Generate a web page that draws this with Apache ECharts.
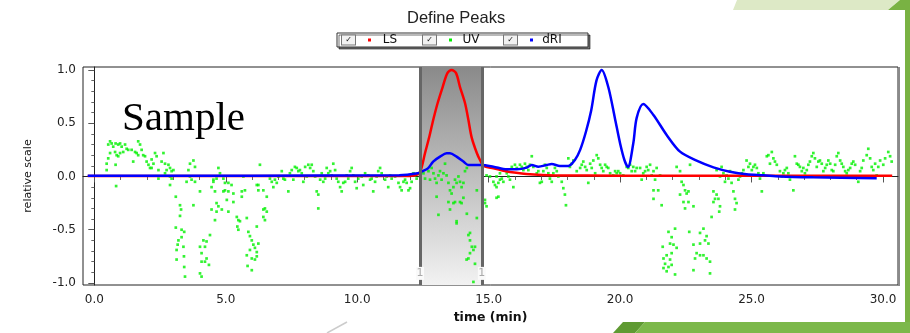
<!DOCTYPE html>
<html>
<head>
<meta charset="utf-8">
<title>Define Peaks</title>
<script src="https://cdn.jsdelivr.net/npm/echarts@6.0.0/dist/echarts.min.js"></script>
<style>
  html, body { margin: 0; padding: 0; background: #fff; }
  #chart { width: 910px; height: 333px; }
</style>
</head>
<body>
<div id="chart"></div>
<script>
// time (min) / relative scale
const lsPoints = [
  [-0.25, 0.005], [6, 0.005], [12.0, 0.005], [12.3, 0.02], [12.42, 0.06], [12.58, 0.22], [12.74, 0.37],
  [12.89, 0.53], [13.06, 0.69], [13.25, 0.84], [13.43, 0.97], [13.59, 1.0], [13.76, 0.97],
  [13.91, 0.84], [14.1, 0.69], [14.23, 0.53], [14.35, 0.37], [14.55, 0.22], [14.67, 0.155],
  [14.8, 0.1], [15.18, 0.076], [15.56, 0.054], [15.81, 0.042], [16.57, 0.02], [17.5, 0.01],
  [20, 0.008], [25, 0.008], [30.35, 0.008]
];

const driPoints = [
  [-0.25, 0.008], [6, 0.008], [11.6, 0.012], [12.3, 0.03], [12.45, 0.045], [12.69, 0.076],
  [12.89, 0.14], [13.15, 0.186], [13.4, 0.218], [13.53, 0.218], [13.78, 0.186], [14.04, 0.14],
  [14.23, 0.108], [14.5, 0.108], [14.74, 0.108], [15.18, 0.092], [15.69, 0.067], [16.07, 0.067],
  [16.45, 0.083], [16.64, 0.108], [16.89, 0.092], [17.21, 0.108], [17.4, 0.117], [17.71, 0.099],
  [18.03, 0.099], [18.28, 0.155], [18.48, 0.25], [18.7, 0.42], [18.9, 0.62], [19.1, 0.9],
  [19.3, 1.0], [19.55, 0.84], [19.8, 0.55], [20.0, 0.31], [20.17, 0.15], [20.3, 0.09],
  [20.5, 0.31], [20.63, 0.55], [20.88, 0.68], [21.26, 0.58], [21.77, 0.39], [22.28, 0.233],
  [22.91, 0.149], [23.55, 0.086], [24.18, 0.045], [24.81, 0.02], [25.45, 0.011], [26.08, 0.0],
  [27.35, -0.008], [29.76, -0.017]
];

const uvPoints = [
  [0.60,0.33],[0.66,0.31],[0.53,0.30],[0.72,0.28],[0.81,0.31],[0.91,0.30],[0.79,0.23],[0.60,0.22],
  [0.85,0.20],[0.53,0.17],[0.47,0.12],[0.81,0.11],[0.47,0.06],[0.83,-0.09],[0.98,0.31],[1.04,0.28],
  [1.17,0.30],[1.23,0.26],[1.29,0.25],[1.10,0.23],[0.98,0.22],[0.91,0.19],[1.42,0.25],[1.55,0.23],
  [1.67,0.33],[1.74,0.30],[1.61,0.22],[1.48,0.14],[1.80,0.25],[1.86,0.20],[1.67,0.20],[1.93,0.19],
  [1.99,0.14],[2.06,0.11],[2.12,0.08],[2.18,0.16],[2.31,0.22],[2.37,0.19],[2.25,0.12],[2.18,0.08],
  [2.44,0.06],[2.63,0.22],[2.56,0.14],[2.69,0.12],[2.82,0.11],[2.75,0.06],[2.88,0.08],[2.94,0.05],
  [3.01,0.06],[2.69,0.03],[2.88,0.00],[2.44,-0.02],[2.94,-0.02],[2.88,-0.08],
  [3.64,0.12],[3.77,0.15],[3.83,0.09],[3.58,0.06],[3.64,0.00],[3.70,-0.03],[3.83,-0.05],[4.02,-0.14],
  [3.51,-0.05],[3.77,-0.27],
  [3.10,-0.19],[3.26,-0.27],[3.30,-0.31],[3.26,-0.37],[3.10,-0.48],[3.32,-0.50],[3.20,-0.60],
  [3.42,-0.52],[3.32,-0.57],[3.39,-0.66],[3.17,-0.64],[3.13,-0.69],[3.13,-0.78],[3.41,-0.75],
  [3.42,-0.85],[3.45,-0.94],
  [4.15,-0.60],[4.27,-0.61],[4.02,-0.66],[4.21,-0.66],[4.40,-0.55],[4.08,-0.72],[4.27,-0.77],
  [4.08,-0.80],[4.21,-0.80],[4.36,-0.83],[4.02,-0.91],[4.08,-0.94],
  [4.72,0.08],[4.78,0.03],[4.53,-0.03],[4.65,-0.02],[4.91,-0.02],[4.46,-0.10],[4.59,-0.14],
  [4.53,-0.05],[4.97,-0.06],[5.10,-0.06],[5.22,-0.08],[4.97,-0.13],[5.10,-0.14],[4.91,-0.14],
  [4.65,-0.25],[4.72,-0.28],[4.85,-0.31],[4.65,-0.33],[4.46,-0.31],[5.04,-0.22],[5.10,-0.33],
  [4.59,-0.41],[5.29,-0.16],[5.61,-0.14],[5.73,-0.13],[5.67,0.00],[5.61,-0.19],[5.29,-0.24],
  [5.42,-0.38],[5.48,-0.41],[5.54,-0.42],[5.44,-0.47],[5.48,-0.50],[5.80,-0.39],[5.86,-0.52],
  [5.92,-0.56],[5.99,-0.60],[6.05,-0.64],[6.11,-0.67],[5.92,-0.69],[5.80,-0.74],[5.99,-0.77],
  [6.11,-0.78],[6.18,-0.71],[6.18,-0.75],[5.83,-0.84],[5.99,-0.88],[6.24,-0.63],
  [6.30,0.11],[6.24,-0.08],[6.24,-0.13],[6.43,-0.31],[6.43,-0.38],[6.18,-0.47],
  [6.18,-0.08],[6.43,-0.13],[6.56,-0.19],[6.49,-0.30],[6.56,-0.33],[6.49,-0.41],
  [6.68,-0.02],[6.75,-0.05],[6.87,-0.03],[6.94,-0.06],[6.81,-0.10],[7.00,0.00],[7.13,0.05],
  [7.19,-0.02],[7.25,-0.03],[7.38,-0.14],[7.44,0.03],[7.51,0.06],[7.57,-0.03],[7.63,0.09],
  [7.70,0.08],[7.76,0.05],[7.82,0.06],[7.89,0.03],[7.95,-0.05],[8.02,0.09],[8.08,0.00],
  [8.14,0.11],[8.21,0.08],[8.27,0.11],[8.33,0.05],[8.40,0.00],[8.46,-0.14],[8.52,-0.17],
  [8.52,-0.30],[8.59,-0.03],[8.65,0.03],[8.71,-0.05],[8.78,-0.02],[8.84,0.08],[8.90,0.03],
  [8.97,0.05],[9.03,0.01],[9.09,0.12],[9.16,0.06],[9.22,-0.02],[9.28,-0.05],[9.35,-0.10],
  [9.41,-0.14],[9.47,-0.06],[9.54,-0.05],[9.60,0.01],[9.66,-0.02],[9.73,0.05],[9.79,0.08],
  [9.85,0.01],[9.92,-0.05],[9.98,-0.11],[10.04,-0.02],[10.17,0.00],[10.23,-0.08],[10.30,0.03],
  [10.42,0.01],[10.49,-0.03],[10.55,-0.02],[10.61,-0.14],[10.68,-0.05],[10.74,0.00],[10.80,0.05],
  [10.87,0.08],[10.93,0.03],[11.06,-0.03],[11.12,0.00],[11.18,-0.10],[11.25,0.01],[11.31,-0.02],
  [11.44,0.00],[11.57,-0.06],[11.63,-0.10],[11.69,-0.13],[11.76,-0.05],[11.82,-0.03],[11.88,-0.06],
  [11.95,-0.13],[12.01,-0.11],[12.07,-0.05],[12.14,0.03],[12.20,0.01],[12.26,-0.02],
  [12.39,0.00],[12.52,0.03],[12.58,-0.02],[12.71,0.05],[12.77,-0.03],[12.83,0.08],[12.90,0.03],
  [12.96,-0.02],[13.02,-0.06],[13.09,0.01],[13.15,0.05],[13.21,-0.03],[13.28,0.03],[13.34,0.12],
  [13.40,0.01],[13.47,-0.06],[13.53,-0.13],[13.59,-0.16],[13.66,-0.10],[13.72,-0.03],[13.72,-0.24],
  [13.78,-0.06],[13.85,0.00],[13.91,-0.05],[13.97,-0.10],[14.04,-0.06],[14.10,0.05],[14.17,0.08],
  [14.04,-0.20],[13.91,-0.24],[13.78,-0.42],[13.09,-0.36],[13.02,-0.19],[13.47,-0.24],[13.97,-0.25],
  [14.17,-0.35],[14.23,-0.55],[14.29,-0.60],[14.36,-0.66],[14.42,-0.69],[14.29,-0.72],[14.23,-0.77],
  [14.48,-0.66],[14.42,-0.99],[14.55,-0.39],[14.55,-0.13],[14.16,-0.78],[14.48,-0.82],[14.29,-0.53],
  [13.78,-0.44],[13.53,-0.31],[13.66,-0.25],
  [14.86,-0.25],[14.92,-0.28],[14.86,-0.22],[15.37,-0.19],[15.69,0.06],[15.43,0.03],[15.30,0.00],
  [14.92,0.01],[15.05,0.00],[15.18,-0.05],[15.24,-0.08],[15.30,-0.10],[15.37,-0.06],[15.43,-0.03],
  [15.50,-0.02],[15.56,-0.05],[15.30,-0.20],[15.69,0.03],[15.75,0.00],[15.81,-0.03],[15.88,0.09],
  [15.94,-0.10],[16.00,0.11],[16.07,0.08],[16.19,0.11],[16.26,0.09],[16.32,0.06],[16.38,0.12],
  [16.45,0.09],[16.51,0.06],[16.57,0.11],[16.64,0.19],[16.70,0.09],[16.83,0.03],[16.89,0.05],
  [16.95,-0.06],[17.02,-0.05],[17.08,0.05],[17.14,0.11],[17.21,0.08],[17.27,0.03],[17.33,-0.02],
  [17.40,-0.05],[17.46,0.03],[17.52,0.08],[17.59,0.05],[17.65,0.00],[17.78,-0.05],[17.84,-0.11],
  [17.90,-0.17],[17.94,-0.27],[18.03,0.17],[18.09,0.09],[18.16,0.12],[18.22,0.15],[18.35,0.05],
  [18.48,0.08],[18.54,0.11],[18.60,0.14],[18.67,0.09],[18.73,0.06],[18.79,-0.06],[18.86,0.12],
  [18.92,0.08],[18.98,0.15],[19.05,0.03],[19.11,0.20],[19.17,0.17],[19.24,0.11],[19.30,0.08],
  [19.36,0.05],[19.43,0.11],[19.49,0.09],[19.55,0.08],[19.62,0.03],[19.74,0.01],[19.81,0.05],
  [19.87,0.03],[19.93,0.05],[20.00,0.03],[20.12,0.01],[20.25,0.09],[20.31,0.08],[20.38,0.11],
  [20.44,0.05],[20.50,0.09],[20.57,0.05],[20.63,0.08],[20.76,0.08],[20.82,-0.03],[20.88,0.03],
  [20.95,0.05],[21.01,0.09],[21.07,0.06],[21.14,0.11],[21.20,0.01],[21.27,0.05],[21.33,-0.03],
  [21.39,0.08],[21.52,0.01],[21.58,-0.27],[21.27,-0.21],[21.27,-0.13],[21.45,-0.13],
  [22.15,0.09],[22.28,0.05],[22.34,-0.05],[22.41,-0.08],[22.47,-0.13],[22.28,-0.17],[22.53,-0.16],
  [22.60,-0.14],[22.41,-0.24],[22.47,-0.30],[22.60,-0.24],[22.66,0.11],[22.79,-0.28],
  [23.55,-0.14],[23.67,-0.17],[23.61,-0.21],[23.74,-0.21],[23.80,-0.28],[23.77,-0.33],[23.48,-0.38],
  [23.55,-0.24],[23.67,0.06],[23.80,0.00],[23.86,0.09],[23.93,0.03],[23.99,-0.05],[24.05,0.01],
  [24.12,-0.02],[24.18,0.05],[24.24,-0.06],[24.31,-0.14],[24.37,-0.21],[24.43,-0.25],[24.37,-0.31],
  [24.50,-0.03],[24.56,0.00],[24.63,0.03],[24.69,0.06],[24.81,0.15],[24.88,0.09],[24.94,0.12],
  [25.01,0.06],[25.07,0.09],[25.13,0.11],[25.20,0.08],[25.26,0.03],[25.32,-0.02],[25.39,-0.14],
  [25.45,0.03],[25.58,0.19],[25.64,0.20],[25.70,0.12],[25.77,0.23],[25.83,0.17],[25.89,0.14],
  [25.96,0.11],[26.08,0.05],[26.15,0.00],[26.21,0.03],[26.27,0.06],[26.34,0.08],[26.40,0.03],
  [26.46,-0.03],[26.59,-0.13],[26.65,0.19],[26.72,0.12],[26.78,0.11],[26.84,0.09],[26.91,0.05],
  [26.97,0.08],[27.03,0.03],[27.10,0.06],[27.16,0.11],[27.22,0.14],[27.29,0.19],[27.35,0.22],
  [27.41,0.17],[27.48,0.09],[27.54,0.14],[27.60,0.15],[27.67,0.12],[27.73,0.05],[27.80,0.08],
  [27.86,0.11],[27.92,0.15],[27.99,0.12],[28.05,0.06],[28.11,0.05],[28.18,0.11],[28.24,0.19],
  [28.30,0.22],[28.37,0.15],[28.43,0.12],[28.49,0.09],[28.56,0.05],[28.62,0.03],[28.68,0.06],
  [28.75,0.08],[28.81,0.12],[28.87,0.14],[28.94,0.11],[29.06,-0.05],[29.13,0.05],[29.19,0.08],
  [29.25,0.15],[29.38,0.20],[29.44,0.26],[29.51,0.17],[29.57,0.09],[29.63,0.06],[29.70,0.12],
  [29.76,0.01],[29.82,0.09],[29.89,0.15],[30.01,0.11],[30.08,0.17],[30.20,0.23],[30.27,0.19],
  [30.33,0.14],
  [21.84,-0.52],[22.09,-0.49],[21.96,-0.57],[21.90,-0.63],[22.03,-0.64],[21.62,-0.66],[22.15,-0.67],
  [21.96,-0.72],[21.77,-0.74],[21.65,-0.77],[21.90,-0.78],[21.71,-0.82],[21.84,-0.85],[21.65,-0.86],
  [21.96,-0.83],[21.77,-0.89],[22.09,-0.92],
  [22.63,-0.52],[23.04,-0.53],[23.17,-0.49],[23.29,-0.56],[23.23,-0.60],[23.04,-0.63],[22.79,-0.64],
  [23.36,-0.63],[22.91,-0.72],[23.04,-0.74],[23.17,-0.74],[22.85,-0.77],[23.29,-0.77],[23.42,-0.80],
  [23.42,-0.91],[22.79,-0.88]
];

const xTicks = [0, 5, 10, 15, 20, 25, 30];
const xMinorTicks = [1, 2, 3, 4, 6, 7, 8, 9, 11, 12, 13, 14, 16, 17, 18, 19, 21, 22, 23, 24, 26, 27, 28, 29];
const yTicks = [-1, -0.5, 0, 0.5, 1];
const yMinorTicks = [-0.9, -0.8, -0.7, -0.6, -0.4, -0.3, -0.2, -0.1, 0.1, 0.2, 0.3, 0.4, 0.6, 0.7, 0.8, 0.9];
const peakStart = 12.39;
const peakEnd = 14.74;

const FONT = 'DejaVu Sans';
const chart = echarts.init(document.getElementById('chart'));

const dotStyle = (c) => ({ width: 3, height: 3, lineHeight: 3, fontSize: 3, backgroundColor: c, verticalAlign: 'middle' });

chart.setOption({
  animation: false,
  backgroundColor: '#fff',
  title: {
    text: 'Define Peaks',
    left: 407,
    top: 10,
    padding: 0,
    textStyle: { fontFamily: 'Liberation Sans', fontSize: 16.5, fontWeight: 'normal', color: '#222' }
  },
  legend: {
    left: 337,
    top: 33,
    padding: [1, 26, 1, 0],
    itemGap: 18,
    itemWidth: 0,
    itemHeight: 10,
    icon: 'none',
    borderColor: '#333',
    borderWidth: 1,
    backgroundColor: '#fff',
    shadowColor: 'rgba(0,0,0,0.55)',
    shadowOffsetX: 2,
    shadowOffsetY: 2,
    shadowBlur: 0,
    data: ['LS', 'UV', 'dRI'],
    formatter: (name) => `{cb|✓}{s1| }{d${name}| }{s2| }{n|${name}}`,
    textStyle: {
      fontFamily: FONT,
      rich: {
        cb: { width: 13, height: 9, lineHeight: 9, align: 'center', fontSize: 8, color: '#111',
              backgroundColor: '#f2f2f2', borderColor: '#777', borderWidth: 1, verticalAlign: 'middle' },
        s1: { width: 13, fontSize: 3 },
        s2: { width: 9, fontSize: 3 },
        dLS: dotStyle('#ff0000'),
        dUV: dotStyle('#00ee00'),
        ddRI: dotStyle('#0000ff'),
        n: { width: 20, fontSize: 12, lineHeight: 15, color: '#111', fontFamily: FONT, verticalAlign: 'middle' }
      }
    }
  },
  grid: {
    left: 83, top: 67, right: 12, bottom: 48,
    show: true,
    backgroundColor: '#fff',
    borderColor: '#222',
    borderWidth: 1
  },
  xAxis: [
    {
      type: 'value', position: 'bottom', min: -0.43, max: 30.57,
      name: 'time (min)', nameLocation: 'middle', nameGap: 21,
      nameTextStyle: { fontFamily: FONT, fontSize: 12.5, fontWeight: 'bold', color: '#111' },
      axisLine: { show: true, lineStyle: { color: '#222' } },
      axisTick: { show: true, customValues: xTicks, length: 6, lineStyle: { color: '#555' } },
      axisLabel: { customValues: xTicks, formatter: (v) => v.toFixed(1), margin: 9,
                   fontFamily: FONT, fontSize: 12, color: '#222' },
      splitLine: { show: false }
    },
    {
      type: 'value', position: 'bottom', min: -0.43, max: 30.57,
      axisLine: { show: false },
      axisTick: { show: true, customValues: xMinorTicks, length: 3.5, lineStyle: { color: '#666' } },
      axisLabel: { show: false },
      splitLine: { show: false }
    }
  ],
  yAxis: [
    {
      type: 'value', position: 'left', min: -1.019, max: 1.028,
      name: 'relative scale', nameLocation: 'middle', nameGap: 49, nameRotate: 90,
      nameTextStyle: { fontFamily: FONT, fontSize: 11, color: '#111' },
      axisLine: { show: true, lineStyle: { color: '#222' } },
      axisTick: { show: true, customValues: yTicks, length: 6, lineStyle: { color: '#555' } },
      axisLabel: { customValues: yTicks, formatter: (v) => v.toFixed(1), margin: 7,
                   fontFamily: FONT, fontSize: 12, color: '#222' },
      splitLine: { show: false }
    },
    {
      type: 'value', position: 'left', min: -1.019, max: 1.028,
      axisLine: { show: false },
      axisTick: { show: true, customValues: yMinorTicks, length: 3, lineStyle: { color: '#666' } },
      axisLabel: { show: false },
      splitLine: { show: false }
    }
  ],
  series: [
    {
      name: 'LS',
      type: 'line',
      data: lsPoints,
      smooth: 0.3,
      showSymbol: false,
      color: '#ff0000',
      lineStyle: { width: 2.5, color: '#ff0000' },
      markArea: {
        silent: true,
        itemStyle: {
          color: new echarts.graphic.LinearGradient(0, 0, 0, 1, [
            { offset: 0, color: '#8a8a8a' },
            { offset: 1, color: '#f2f2f2' }
          ])
        },
        data: [[{ xAxis: peakStart }, { xAxis: peakEnd }]]
      },
      markLine: {
        silent: true,
        symbol: 'none',
        label: { show: false },
        lineStyle: { color: '#666', width: 3, type: 'solid' },
        data: [{ xAxis: peakStart }, { xAxis: peakEnd }]
      },
      markPoint: {
        silent: true,
        symbol: 'rect',
        symbolSize: [8, 13],
        itemStyle: { color: '#fafafa' },
        label: { show: true, formatter: '1', color: '#aaa', fontFamily: FONT, fontSize: 11 },
        data: [{ coord: [peakStart, -0.91] }, { coord: [peakEnd, -0.91] }]
      }
    },
    {
      name: 'UV',
      type: 'scatter',
      data: uvPoints,
      symbol: 'rect',
      symbolSize: 2.7,
      color: '#00ee00',
      itemStyle: { color: '#00f000' }
    },
    {
      name: 'dRI',
      type: 'line',
      data: driPoints,
      smooth: 0.3,
      showSymbol: false,
      color: '#0000ff',
      lineStyle: { width: 2.5, color: '#0000ff' }
    }
  ],
  graphic: [
    {
      type: 'text', left: 122, top: 99, silent: true,
      style: { text: 'Sample', fontFamily: 'Liberation Serif', fontSize: 41, fill: '#000' }
    },
    {
      type: 'line', silent: true,
      shape: { x1: 899, y1: 67, x2: 899, y2: 286 },
      style: { stroke: '#8a8a8a', lineWidth: 2 }
    },
    {
      type: 'polygon', silent: true,
      shape: { points: [[733, 10], [737, 0], [900, 0], [888, 10]] },
      style: { fill: '#dde9c6' }
    },
    {
      type: 'polygon', silent: true,
      shape: { points: [[888, 10], [900, 0], [910, 0], [910, 333], [905, 333], [905, 10]] },
      style: { fill: '#79b243' }
    },
    {
      type: 'polygon', silent: true,
      shape: { points: [[613, 333], [623, 322], [645, 322], [635, 333]] },
      style: { fill: '#5f9a32' }
    },
    {
      type: 'polygon', silent: true,
      shape: { points: [[635, 333], [645, 322], [910, 322], [910, 333]] },
      style: { fill: '#7cb84a' }
    },
    {
      type: 'line', silent: true,
      shape: { x1: 327, y1: 333, x2: 347, y2: 322 },
      style: { stroke: '#cccccc', lineWidth: 1.5 }
    }
  ]
});
</script>
</body>
</html>
